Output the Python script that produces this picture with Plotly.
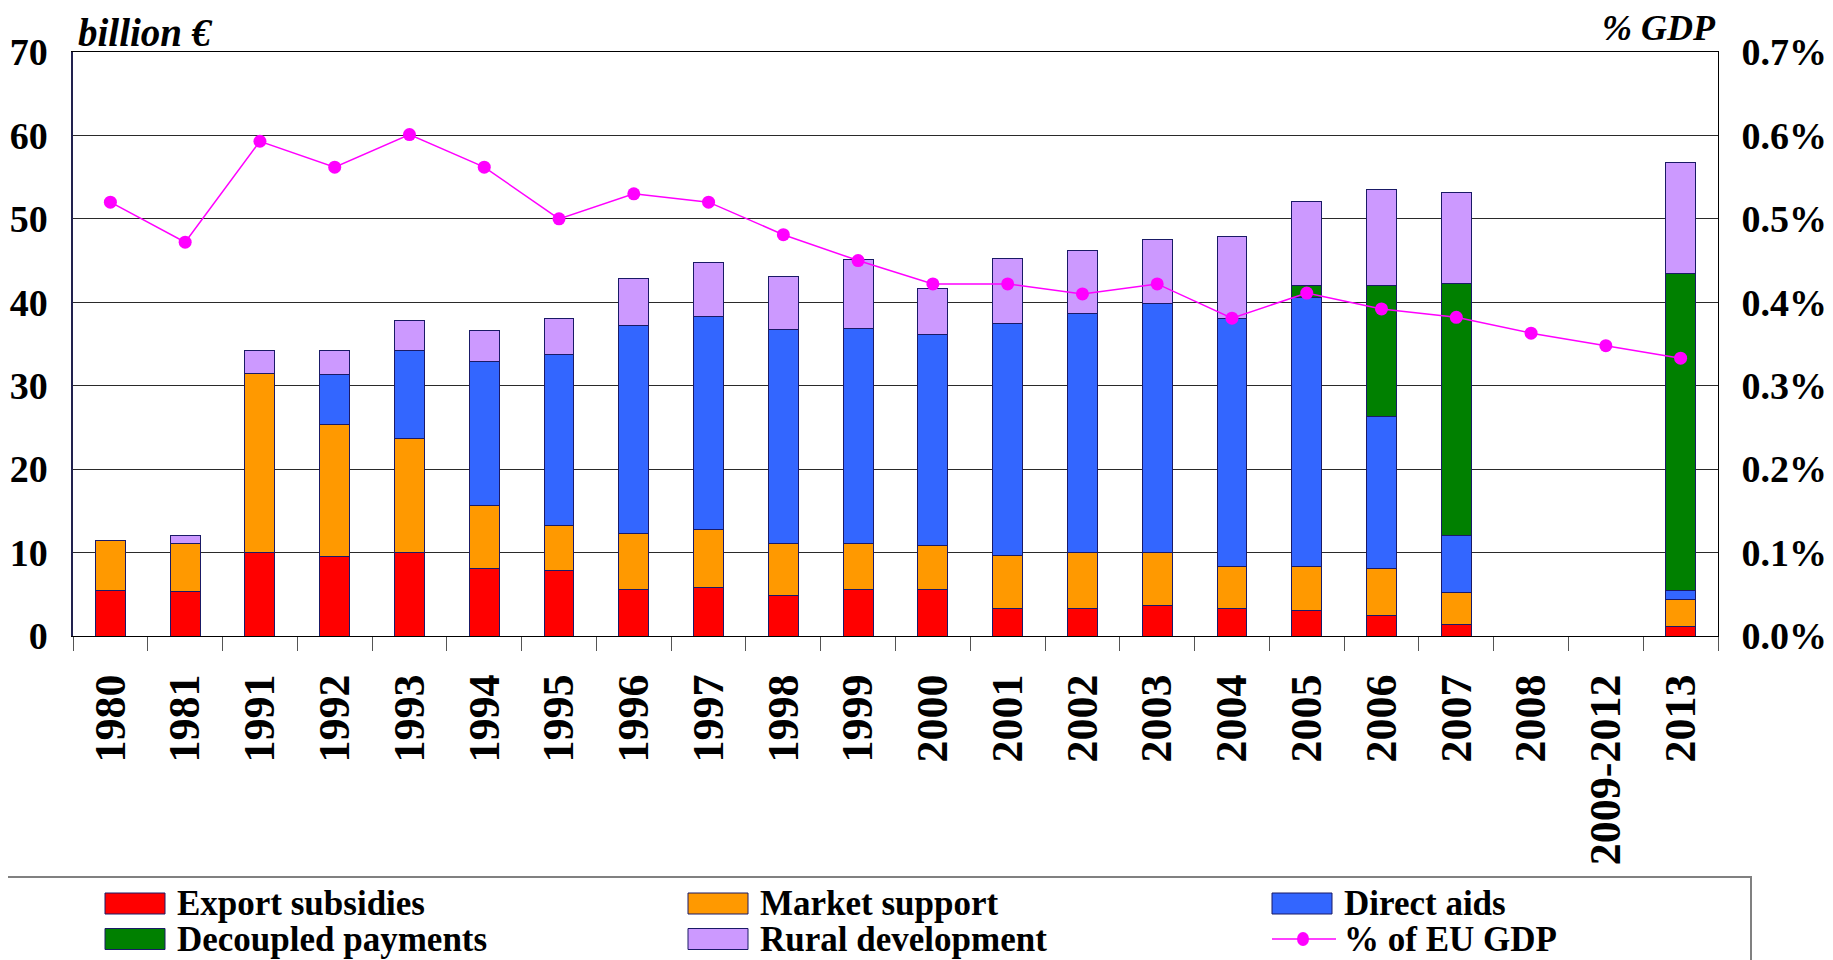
import plotly.graph_objects as go

# CAP expenditure, billion euro, and share of EU GDP
years = ["1980", "1981", "1991", "1992", "1993", "1994", "1995", "1996", "1997",
         "1998", "1999", "2000", "2001", "2002", "2003", "2004", "2005", "2006",
         "2007", "2008", "2009-2012", "2013"]

export_subsidies = [5.5, 5.3, 10.0, 9.5, 10.0, 8.1, 7.8, 5.6, 5.8, 4.8, 5.6, 5.6,
                    3.3, 3.3, 3.6, 3.3, 3.0, 2.5, 1.35, None, None, 1.1]
market_support = [6.0, 5.8, 21.5, 15.9, 13.7, 7.5, 5.4, 6.7, 7.0, 6.3, 5.5, 5.3,
                  6.4, 6.7, 6.4, 5.0, 5.3, 5.6, 3.85, None, None, 3.3]
direct_aids = [0, 0, 0, 6.0, 10.5, 17.3, 20.6, 24.9, 25.5, 25.6, 25.8, 25.2,
               27.8, 28.6, 29.8, 29.8, 32.3, 18.2, 6.8, None, None, 1.1]
decoupled_payments = [0, 0, 0, 0, 0, 0, 0, 0, 0, 0, 0, 0,
                      0, 0, 0, 0, 1.4, 15.7, 30.2, None, None, 37.9]
rural_development = [0, 0.9, 2.7, 2.8, 3.6, 3.7, 4.2, 5.6, 6.5, 6.4, 8.2, 5.6,
                     7.8, 7.6, 7.7, 9.8, 10.1, 11.5, 11.0, None, None, 13.4]
gdp_share = [0.520, 0.472, 0.593, 0.562, 0.601, 0.562, 0.500, 0.530, 0.520, 0.481,
             0.450, 0.422, 0.422, 0.410, 0.422, 0.381, 0.411, 0.392, 0.382, 0.363,
             0.348, 0.333]

left_ticks = [0, 10, 20, 30, 40, 50, 60, 70]
right_ticks = [0.0, 0.1, 0.2, 0.3, 0.4, 0.5, 0.6, 0.7]
right_labels = ["0.0%", "0.1%", "0.2%", "0.3%", "0.4%", "0.5%", "0.6%", "0.7%"]

bar_series = [
    ("Export subsidies", export_subsidies, "#FF0000"),
    ("Market support", market_support, "#FF9900"),
    ("Direct aids", direct_aids, "#3366FF"),
    ("Decoupled payments", decoupled_payments, "#008000"),
    ("Rural development", rural_development, "#CC99FF"),
]
line_name = "% of EU GDP"
line_color = "#FF00FF"

FONT = "Liberation Serif"
OFF = 8  # page body margin
W, H = 1833 - OFF, 960 - OFF
# plot area in screen pixels
PL, PR, PT, PB = 73, 1718, 52, 636


def fx(px):
    return (px - PL) / (PR - PL)


def fy(py):
    return (PB - py) / (PB - PT)


fig = go.Figure()

for name, vals, color in bar_series:
    fig.add_trace(go.Bar(
        x=years, y=vals, name=name,
        marker_color=color,
        marker_line_color="#1a1a66",
        marker_line_width=1,
    ))

fig.add_trace(go.Scatter(
    x=years, y=gdp_share, name=line_name, yaxis="y2",
    mode="lines+markers",
    line=dict(color=line_color, width=1.5),
    marker=dict(color=line_color, size=13),
))

fig.update_layout(
    width=W, height=H,
    barmode="stack", bargap=0.6,
    plot_bgcolor="white", paper_bgcolor="white",
    showlegend=False,
    margin=dict(l=PL - OFF, r=W - (PR - OFF), t=PT - OFF, b=H - (PB - OFF),
                autoexpand=False),
    font=dict(family=FONT, color="black"),
    xaxis=dict(
        type="category", range=[-0.5, len(years) - 0.5], automargin=False,
        showline=True, linecolor="black", linewidth=1, mirror=True,
        ticks="outside", tickson="boundaries", ticklen=14, tickcolor="#555555",
        tickangle=-90, ticklabelstandoff=20,
        tickfont=dict(family=FONT, size=44, weight="bold"),
        showgrid=False,
    ),
    yaxis=dict(
        range=[0, 70], tickvals=left_ticks, automargin=False,
        showline=True, linecolor="#22224f", linewidth=1.5,
        showgrid=True, gridcolor="#2a2a2a", gridwidth=1,
        zeroline=False, ticks="", ticklabelstandoff=16,
        tickfont=dict(family=FONT, size=38, weight="bold"),
    ),
    yaxis2=dict(
        overlaying="y", side="right", automargin=False,
        range=[0, 0.7], tickvals=right_ticks, ticktext=right_labels,
        showline=True, linecolor="black", linewidth=1,
        showgrid=False, zeroline=False, ticks="", ticklabelstandoff=15,
        tickfont=dict(family=FONT, size=38, weight="bold"),
    ),
)

# axis titles
fig.add_annotation(xref="paper", yref="paper", x=fx(76), y=fy(32),
                   xanchor="left", yanchor="middle", showarrow=False,
                   text="<b><i>billion €</i></b>",
                   font=dict(family=FONT, size=39, color="black"))
fig.add_annotation(xref="paper", yref="paper", x=fx(1718), y=fy(28),
                   xanchor="right", yanchor="middle", showarrow=False,
                   text="<b><i>% GDP</i></b>",
                   font=dict(family=FONT, size=36, color="black"))

# legend box drawn below the axis labels
fig.add_shape(type="rect", xref="paper", yref="paper",
              x0=fx(3), x1=fx(1751), y0=fy(980), y1=fy(877),
              line=dict(color="#808080", width=2), fillcolor="white", layer="below")

col_x = [105, 688, 1272]
row_y = [903.5, 939]
entries = [(n, c) for n, _, c in bar_series] + [(line_name, None)]
for k, (name, color) in enumerate(entries):
    cx = col_x[k % 3]
    cy = row_y[k // 3]
    if color is not None:
        fig.add_shape(type="rect", xref="paper", yref="paper",
                      x0=fx(cx), x1=fx(cx + 60), y0=fy(cy + 10.5), y1=fy(cy - 10.5),
                      fillcolor=color, line=dict(color="#1a1a66", width=1))
    else:
        fig.add_shape(type="line", xref="paper", yref="paper",
                      x0=fx(cx), x1=fx(cx + 64), y0=fy(cy), y1=fy(cy),
                      line=dict(color=line_color, width=1.5))
        fig.add_shape(type="circle", xref="paper", yref="paper",
                      x0=fx(cx + 25), x1=fx(cx + 37), y0=fy(cy + 7), y1=fy(cy - 7),
                      fillcolor=line_color, line=dict(color=line_color, width=0))
    fig.add_annotation(xref="paper", yref="paper", x=fx(cx + 70), y=fy(cy),
                       xanchor="left", yanchor="middle", showarrow=False,
                       text="<b>%s</b>" % name,
                       font=dict(family=FONT, size=35, color="black"))

fig.write_html("out.html")
